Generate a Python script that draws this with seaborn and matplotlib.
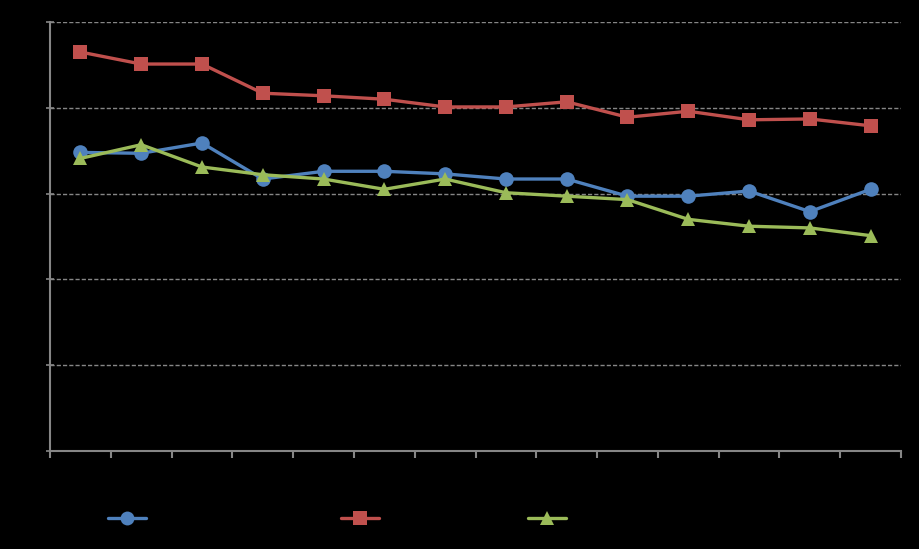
import matplotlib
matplotlib.use("Agg")
import matplotlib.pyplot as plt
import seaborn as sns
import pandas as pd
from matplotlib.lines import Line2D

categories = list(range(1, 15))
series_names = ["Series 1", "Series 2", "Series 3"]
blue_vals = [3.48, 3.47, 3.59, 3.17, 3.26, 3.26, 3.23, 3.17, 3.17, 2.97, 2.97, 3.03, 2.79, 3.05]
red_vals = [4.65, 4.51, 4.51, 4.17, 4.14, 4.10, 4.01, 4.01, 4.07, 3.89, 3.96, 3.86, 3.87, 3.79]
green_vals = [3.41, 3.57, 3.31, 3.22, 3.17, 3.05, 3.17, 3.01, 2.97, 2.93, 2.70, 2.62, 2.60, 2.51]

colors = ["#4F81BD", "#C0504D", "#9BBB59"]
markers = ["o", "s", "^"]

rows = []
for name, vals in zip(series_names, [blue_vals, red_vals, green_vals]):
    for i, v in enumerate(vals):
        rows.append({"idx": i, "value": v, "series": name})
df = pd.DataFrame(rows)

sns.set_style("dark")
fig = plt.figure(figsize=(9.2, 5.49), dpi=100, facecolor="black")
ax = fig.add_axes([50/920, 1-451/549, 851/920, (451-22)/549])
ax.set_facecolor("black")

sns.lineplot(data=df, x="idx", y="value", hue="series", style="series",
             palette=colors, markers=markers, dashes=False, linewidth=2.4,
             markersize=10.5, markeredgewidth=0, ax=ax, legend=False)

ax.set_xlim(-0.5, len(categories) - 0.5)
ax.set_ylim(0, 5)
ax.set_xticks([i - 0.5 for i in range(len(categories) + 1)])
ax.set_xticklabels([])
ax.set_yticks([0, 1, 2, 3, 4, 5])
ax.set_yticklabels([])
ax.set_xlabel("")
ax.set_ylabel("")
ax.grid(False)
for y in [1, 2, 3, 4, 5]:
    ax.axhline(y, color="#868686", linestyle=(0, (3, 1.5)), linewidth=1.0, zorder=0.5)
for s in ["top", "right"]:
    ax.spines[s].set_visible(False)
for s in ["left", "bottom"]:
    ax.spines[s].set_visible(True)
    ax.spines[s].set_color("#868686")
    ax.spines[s].set_linewidth(1.5)
ax.tick_params(axis="x", direction="out", length=5, width=1.5, color="#868686", bottom=True)
ax.tick_params(axis="y", direction="inout", length=6, width=1.2, color="#868686", left=True)

legend_x = [124/920, 357/920, 544/920]
for name, c, m, lx in zip(series_names, colors, markers, legend_x):
    h = Line2D([0], [0], color=c, marker=m, linewidth=2.4, markersize=10, markeredgewidth=0)
    leg = fig.legend(handles=[h], labels=[name], loc="center left",
                     bbox_to_anchor=(lx - 30/920, 1 - 519/549), frameon=False,
                     handlelength=2.5, labelcolor="black", fontsize=11)

fig.savefig("out.png", dpi=100, facecolor="black")
